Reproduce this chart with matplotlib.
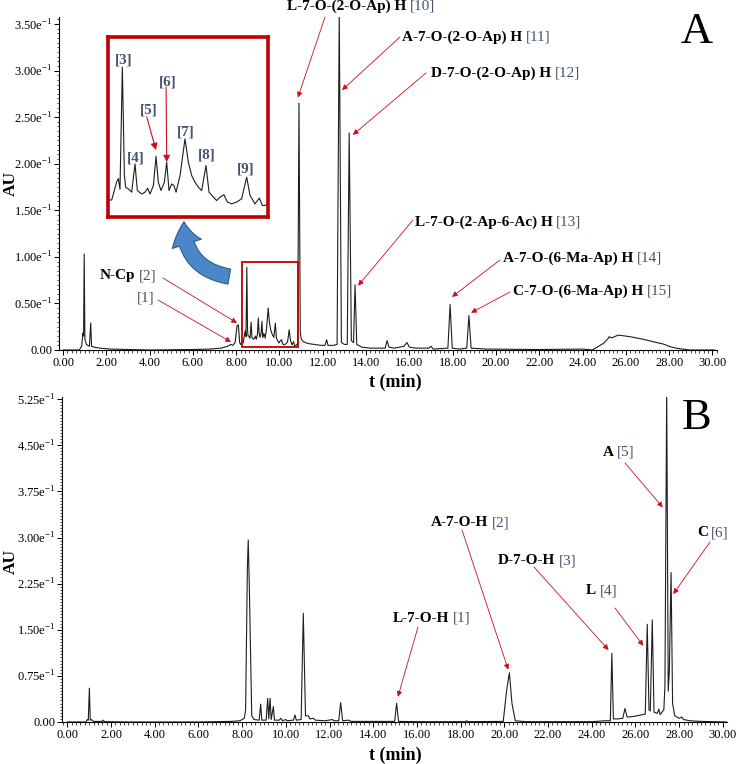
import matplotlib
matplotlib.use('Agg')
import matplotlib.pyplot as plt
from matplotlib.ticker import MultipleLocator
from matplotlib.patches import Rectangle, FancyArrowPatch

# ---------------- data ----------------
# Panel A chromatogram: vertices (time in min, absorbance in AU)
t_A = [0.00, 0.75, 0.86, 0.92, 0.95, 0.98, 1.01, 1.08, 1.22, 1.28, 1.32, 1.45, 1.70, 2.20, 3.00,
       4.00, 6.00, 6.80, 7.30, 7.60, 7.76, 7.85, 7.95, 8.04, 8.10, 8.16, 8.20, 8.26,
       8.323, 8.402, 8.428, 8.454, 8.491, 8.523, 8.544, 8.586, 8.638, 8.691, 8.727, 8.796,
       8.848, 8.890, 8.927, 8.980, 9.022, 9.058, 9.100, 9.153, 9.190, 9.226, 9.268, 9.305,
       9.337, 9.400, 9.478, 9.531, 9.584, 9.636, 9.689, 9.741, 9.809, 9.857, 9.925, 9.977,
       10.030, 10.093, 10.145, 10.214, 10.293, 10.371, 10.450, 10.503, 10.581, 10.650,
       10.697, 10.739, 10.80, 10.84, 10.90, 10.96, 11.00, 11.10, 11.30, 11.60, 11.90, 12.10,
       12.18, 12.24, 12.50, 12.66, 12.76, 12.86, 13.00, 13.13, 13.22, 13.32, 13.42, 13.49,
       13.57, 13.80, 14.20, 14.88, 14.97, 15.06, 15.30, 15.75, 15.89, 16.00, 16.30, 16.90,
       17.00, 17.10, 17.78, 17.88, 17.98, 18.30, 18.65, 18.75, 18.85, 19.50, 22.00, 24.00,
       24.45, 24.96, 25.19, 25.23, 25.34, 25.65, 26.19, 26.80, 27.42, 27.73, 28.04, 28.35,
       28.96, 30.10]
au_A = [0.000, 0.000, 0.004, 0.018, 0.015, 0.103, 0.012, 0.006, 0.004, 0.029, 0.004, 0.003,
        0.002, 0.001, 0.0005, 0.000, 0.0005, 0.001, 0.002, 0.004, 0.006, 0.005, 0.008, 0.026,
        0.027, 0.008, 0.006, 0.008,
        0.0078, 0.0189, 0.0209, 0.0144, 0.0887, 0.0229, 0.0156, 0.0146, 0.0126, 0.0298,
        0.0136, 0.0115, 0.0126, 0.0150, 0.0115, 0.0166, 0.0344, 0.0186, 0.0136, 0.0186,
        0.0308, 0.0136, 0.0176, 0.0166, 0.0126, 0.0227, 0.0450, 0.0308, 0.0227, 0.0186,
        0.0156, 0.0136, 0.0288, 0.0126, 0.0096, 0.0075, 0.0096, 0.0110, 0.0066, 0.0055,
        0.0066, 0.0086, 0.0217, 0.0106, 0.0055, 0.0090, 0.0045, 0.0045, 0.006, 0.006,
        0.265, 0.020, 0.012, 0.009, 0.007, 0.006, 0.005, 0.005, 0.011, 0.005, 0.005, 0.006,
        0.362, 0.008, 0.006, 0.006, 0.233, 0.010, 0.008, 0.070, 0.006, 0.003, 0.002, 0.002,
        0.010, 0.003, 0.002, 0.004, 0.008, 0.003, 0.002, 0.002, 0.004, 0.001, 0.002, 0.049,
        0.002, 0.001, 0.002, 0.037, 0.002, 0.001, 0.0005, 0.001, 0.000, 0.007, 0.0125,
        0.0143, 0.013, 0.016, 0.0143, 0.0115, 0.008, 0.0064, 0.0036, 0.0018, 0.000, 0.000]

# Panel B chromatogram
t_B = [0.00, 0.85, 0.92, 0.96, 1.01, 1.05, 1.10, 1.20, 1.60, 1.64, 1.70, 3.00, 6.00, 7.50,
       7.90, 8.10, 8.16, 8.24, 8.28, 8.33, 8.44, 8.55, 8.78, 8.85, 8.90, 9.10, 9.17, 9.22,
       9.28, 9.33, 9.43, 9.48, 9.70, 9.77, 9.85, 10.00, 10.05, 10.35, 10.42, 10.48, 10.70,
       10.80, 10.90, 11.03, 11.10, 11.26, 11.35, 11.80, 12.13, 12.20, 12.42, 12.51, 12.60,
       12.86, 13.00, 14.00, 14.98, 15.07, 15.16, 16.00, 18.20, 18.28, 18.35, 19.95, 20.10,
       20.23, 20.35, 20.50, 21.00, 24.00, 24.60, 24.85, 24.92, 24.99, 25.20, 25.42, 25.52,
       25.62, 25.90, 26.20, 26.45, 26.54, 26.62, 26.68, 26.77, 26.85, 27.00, 27.07, 27.13,
       27.30, 27.35, 27.43, 27.50, 27.55, 27.63, 27.70, 27.80, 28.00, 28.12, 28.20, 28.50,
       29.00, 30.20]
au_B = [0.000, 0.000, 0.004, 0.003, 0.055, 0.003, 0.004, 0.001, 0.001, 0.003, 0.0005, 0.000,
        0.000, 0.001, 0.002, 0.006, 0.020, 0.250, 0.296, 0.220, 0.010, 0.004, 0.003, 0.029,
        0.003, 0.003, 0.0385, 0.005, 0.0385, 0.004, 0.025, 0.003, 0.003, 0.006, 0.002, 0.004,
        0.002, 0.003, 0.0114, 0.003, 0.004, 0.1767, 0.010, 0.010, 0.005, 0.006, 0.003, 0.002,
        0.004, 0.002, 0.002, 0.0314, 0.002, 0.003, 0.001, 0.001, 0.001, 0.0304, 0.001, 0.0005,
        0.0005, 0.002, 0.0005, 0.001, 0.050, 0.080, 0.030, 0.002, 0.0005, 0.0005, 0.002,
        0.002, 0.1117, 0.005, 0.005, 0.006, 0.022, 0.008, 0.009, 0.011, 0.013, 0.159, 0.020,
        0.018, 0.166, 0.016, 0.014, 0.021, 0.012, 0.020, 0.060, 0.540, 0.050, 0.082, 0.243,
        0.030, 0.010, 0.006, 0.008, 0.004, 0.002, 0.001, 0.000]

x_ticks = [0, 2, 4, 6, 8, 10, 12, 14, 16, 18, 20, 22, 24, 26, 28, 30]
y_ticks_A = [0.0, 0.05, 0.10, 0.15, 0.20, 0.25, 0.30, 0.35]
y_labels_A = ['0.00', '0.50e-1', '1.00e-1', '1.50e-1', '2.00e-1', '2.50e-1', '3.00e-1', '3.50e-1']
y_ticks_B = [0.0, 0.075, 0.15, 0.225, 0.30, 0.375, 0.45, 0.525]
y_labels_B = ['0.00', '0.75e-1', '1.50e-1', '2.25e-1', '3.00e-1', '3.75e-1', '4.50e-1', '5.25e-1']

# annotations: (name, number, text left x px, text centre y px, arrow start px, arrow tip (t, AU))
notes_A = [
    ('L-7-O-(2-O-Ap) H', '[10]', 287, 6, (325, 17), (10.85, 0.271)),
    ('A-7-O-(2-O-Ap) H', '[11]', 402, 37, (400, 37), (12.89, 0.279)),
    ('D-7-O-(2-O-Ap) H', '[12]', 431, 73, (426, 73), (13.39, 0.231)),
    ('L-7-O-(2-Ap-6-Ac) H', '[13]', 415, 222, (413, 220), (13.63, 0.069)),
    ('A-7-O-(6-Ma-Ap) H', '[14]', 503, 258, (500, 260), (17.97, 0.057)),
    ('C-7-O-(6-Ma-Ap) H', '[15]', 513, 291, (510, 292), (18.85, 0.040)),
    ('N-Cp', '[2]', 100, 276, (163, 278), (8.04, 0.029)),
    ('', '[1]', 137, 298, (158, 300), (7.76, 0.0086)),
]
notes_B = [
    ('L-7-O-H', '[1]', 393, 618, (418, 627), (15.13, 0.041)),
    ('A-7-O-H', '[2]', 431, 523, (462, 530), (20.18, 0.085)),
    ('D-7-O-H', '[3]', 498, 561, (534, 567), (24.77, 0.117)),
    ('L', '[4]', 586, 591, (615, 608), (26.36, 0.124)),
    ('A', '[5]', 603, 452, (625, 463), (27.25, 0.349)),
    ('C', '[6]', 697, 533, (710, 542), (27.73, 0.208)),
]
# inset labels: (label, x px, y px)
inset_labels = [('[3]', 124, 60), ('[4]', 136, 158), ('[5]', 149, 110), ('[6]', 168, 82),
                ('[7]', 186, 132), ('[8]', 207, 155), ('[9]', 246, 169)]
inset_arrows = [((8.875, 0.0584), (9.021, 0.0382)), ((9.18, 0.0766), (9.19, 0.0309))]

# ---------------- figure ----------------
plt.rcParams['font.family'] = ['Liberation Serif', 'DejaVu Serif']
plt.rcParams['mathtext.fontset'] = 'custom'
plt.rcParams['mathtext.rm'] = 'Liberation Serif'

W, H = 738, 764
fig = plt.figure(figsize=(W / 100, H / 100), dpi=100)

RED = '#c00000'
ARROW = '#c8101e'
NUMC = '#44546A'
LINE = '#1e1e1e'


def axes_px(l, t, r, b):
    return fig.add_axes([l / W, 1 - b / H, (r - l) / W, (b - t) / H])


def sup(s):
    if 'e-' in s:
        m, e = s.split('e')
        return m + 'e$^{\\mathregular{' + e + '}}$'
    return s


def style(ax, yt, yl, xlim, ylim):
    ax.set_xlim(*xlim)
    ax.set_ylim(*ylim)
    for s in ['top', 'right']:
        ax.spines[s].set_visible(False)
    for s in ['left', 'bottom']:
        ax.spines[s].set_linewidth(0.8)
    ax.set_xticks(x_ticks)
    ax.set_xticklabels([f'{v:.2f}' for v in x_ticks])
    ax.xaxis.set_minor_locator(MultipleLocator(0.2))
    ax.set_yticks(yt)
    ax.set_yticklabels([sup(s) for s in yl])
    ax.yaxis.set_minor_locator(MultipleLocator(0.005))
    ax.tick_params(which='major', length=3.5, width=0.7, labelsize=9, pad=1.5)
    ax.tick_params(which='minor', length=1.8, width=0.5)


axA = axes_px(59, 16.5, 717, 350)
axA.plot(t_A, au_A, color=LINE, lw=0.8)
style(axA, y_ticks_A, y_labels_A, (-0.185, 30.21), (0, 0.358))

axB = axes_px(62, 397, 727, 722)
axB.plot(t_B, au_B, color=LINE, lw=0.8)
style(axB, y_ticks_B, y_labels_B, (-0.243, 30.19), (0, 0.5285))

# small box in A and inset
axA.add_patch(Rectangle((8.28, 0.003), 2.56, 0.091, fill=False, ec=RED, lw=1.3, zorder=3))
axI = axes_px(108, 37, 268, 217)
axI.plot(t_A, au_A, color=LINE, lw=0.8)
axI.set_xlim(8.265, 10.786)
axI.set_ylim(-0.0025, 0.107)
axI.set_xticks([])
axI.set_yticks([])
for s in axI.spines.values():
    s.set_edgecolor(RED)
    s.set_linewidth(2.6)

renderer = fig.canvas.get_renderer()


def label(name, num, x, y, size=11, numweight='normal'):
    xx = x
    if name:
        t = fig.text(x / W, 1 - y / H, name, fontsize=size, fontweight='bold',
                     ha='left', va='center', color='black')
        xx = x + t.get_window_extent(renderer).width + size * 0.3
    fig.text(xx / W, 1 - y / H, num, fontsize=size, fontweight=numweight,
             ha='left', va='center', color=NUMC)


def arrow(ax, start, tip, lw=0.6, ms=8):
    ax.annotate('', xy=tip, xycoords='data', xytext=(start[0], H - start[1]),
                textcoords='figure pixels', annotation_clip=False,
                arrowprops=dict(arrowstyle='-|>', color=ARROW, lw=lw, mutation_scale=ms,
                                shrinkA=0, shrinkB=0))


for name, num, x, y, st, tip in notes_A:
    label(name, num, x, y)
    arrow(axA, st, tip)
for name, num, x, y, st, tip in notes_B:
    label(name, num, x, y)
    arrow(axB, st, tip)

for lab, x, y in inset_labels:
    fig.text(x / W, 1 - y / H, lab, fontsize=11, fontweight='bold', ha='center',
             va='center', color=NUMC)
for st, tip in inset_arrows:
    axI.annotate('', xy=tip, xytext=st,
                 arrowprops=dict(arrowstyle='-|>', color=ARROW, lw=0.8, mutation_scale=10,
                                 shrinkA=0, shrinkB=0))

# blue curved arrow
fig.patches.append(FancyArrowPatch((232 / W, 1 - 277 / H), (184 / W, 1 - 219 / H),
                                   transform=fig.transFigure,
                                   connectionstyle='arc3,rad=-0.45',
                                   arrowstyle='simple,head_width=22,head_length=16,tail_width=11',
                                   fc='#4a86c8', ec='#2e5c8a', lw=0.8))

# axis titles & panel letters
for yc in (183, 561):
    fig.text(11 / W, 1 - yc / H, 'AU', rotation=90, fontsize=12.5, fontweight='bold',
             ha='center', va='center')
for yc in (382, 755):
    fig.text(395 / W, 1 - yc / H, 't (min)', fontsize=13, fontweight='bold',
             ha='center', va='center')
fig.text(697 / W, 1 - 32 / H, 'A', fontsize=32, ha='center', va='center')
fig.text(697 / W, 1 - 418 / H, 'B', fontsize=32, ha='center', va='center')

fig.savefig('out.png', dpi=100)
